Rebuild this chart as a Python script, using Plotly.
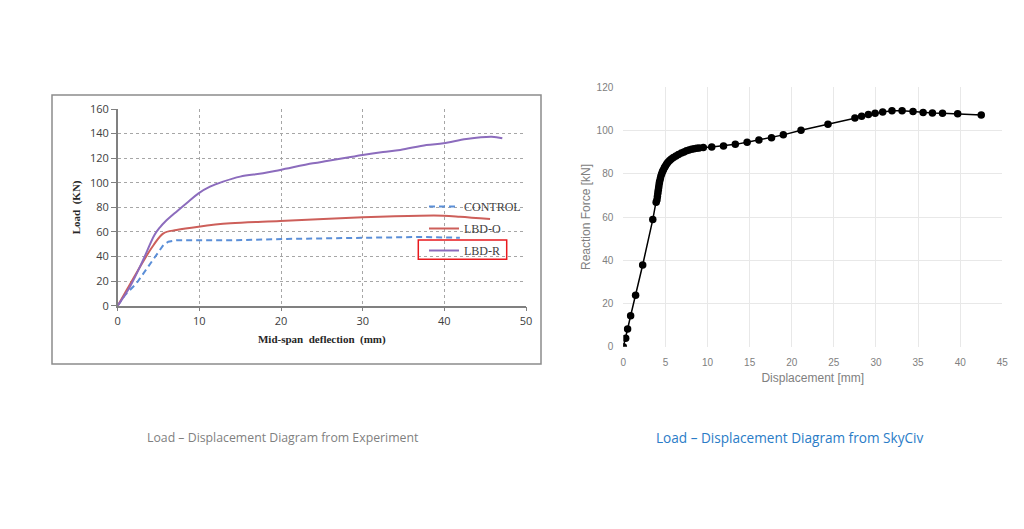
import plotly.graph_objects as go

# experiment curves (left chart)
control_x = [0, 0.9, 2.3, 3.55, 4.8, 5.6, 6.2, 7.2, 9.9, 13.8, 20.7, 30, 37, 41.9]
control_y = [0, 8.7, 18.2, 30.4, 42.6, 49.4, 52, 53.2, 53.2, 53.2, 54.3, 55.3, 55.9, 55.3]

lbdo_x = [0, 1.1, 3.1, 4.4, 5.6, 7.2, 9.9, 13.8, 19.9, 30, 37, 39.9, 41.9, 45.6]
lbdo_y = [0, 12.7, 35.8, 49.4, 58.9, 61.6, 64.3, 67, 68.9, 71.9, 73.2, 73.2, 72.4, 70.5]

lbdr_x = [0, 1.5, 3.1, 4.5, 5.2, 5.8, 7.2, 8.65, 9.9, 11.3, 12.9, 15, 17.8, 19.9, 23.9,
          25.6, 27.6, 30, 32.5, 34.6, 37.8, 39.9, 42.7, 45.8, 47.1]
lbdr_y = [0, 15.5, 37, 57.5, 64.0, 68.3, 76.5, 84.6, 91.4, 96.8, 100.9, 105, 107.7, 110.4, 115.8,
          117.7, 119.9, 122.6, 125.0, 126.7, 130.7, 132.1, 135.6, 137.5, 136.2]

# SkyCiv curve (right chart)
disp = [0, 0.28, 0.51, 0.87, 1.46, 2.3, 3.5, 3.9,
        4.0, 4.05, 4.1, 4.15, 4.2, 4.25, 4.3, 4.38, 4.45, 4.55,
        4.65, 4.75, 4.88, 5.0, 5.15, 5.3, 5.5, 5.7, 5.95, 6.25,
        6.55, 6.9, 7.2, 7.5, 7.8, 8.1, 8.4, 8.7, 9.0, 9.5,
        10.5, 11.9, 13.3, 14.7, 16.1, 17.6, 19.0, 21.1, 24.3, 27.5,
        28.3, 29.1, 29.9, 30.8, 31.9, 33.1, 34.4, 35.6, 36.7, 37.9,
        39.7, 42.5]
force = [0, 3.9, 8.2, 14.3, 23.8, 37.8, 58.8, 66.8,
         68, 69.5, 71, 72.4, 73.7, 75, 76.2, 77.5, 78.7, 79.9,
         80.9, 81.8, 82.8, 83.6, 84.5, 85.3, 86.1, 86.8, 87.5, 88.2,
         88.9, 89.6, 90.1, 90.6, 91.0, 91.3, 91.6, 91.8, 91.9, 92.1,
         92.4, 92.9, 93.6, 94.6, 95.6, 96.7, 98.0, 100.1, 102.9, 105.8,
         106.6, 107.4, 108.0, 108.6, 109.1, 109.2, 108.8, 108.3, 108.1, 108.0,
         107.8, 107.2]

W, H = 1024, 529
OFF = 8  # page body margin shifts the whole figure


def px(x):
    return (x - OFF) / W


def py(y):
    return 1 - (y - OFF) / H


fig = go.Figure()
fig.add_trace(go.Scatter(x=control_x, y=control_y, name="CONTROL", legendgroup="c", mode="lines",
                         line=dict(color="#5b8fd8", width=2, dash="6px,4px"), xaxis="x", yaxis="y"))
fig.add_trace(go.Scatter(x=lbdo_x, y=lbdo_y, name="LBD-O", legendgroup="o", mode="lines",
                         line=dict(color="#cd5f5a", width=2, shape="spline"), xaxis="x", yaxis="y"))
fig.add_trace(go.Scatter(x=lbdr_x, y=lbdr_y, name="LBD-R", legendgroup="r", mode="lines",
                         line=dict(color="#8c6cbd", width=2, shape="spline"), xaxis="x", yaxis="y"))
fig.add_trace(go.Scatter(x=disp, y=force, mode="lines+markers", showlegend=False,
                         line=dict(color="black", width=1.5),
                         marker=dict(color="black", size=7.5), xaxis="x2", yaxis="y2"))

serif = "Liberation Serif, Times New Roman, serif"
sans = "Liberation Sans, Arial, sans-serif"
cal = "Open Sans, Noto Sans, sans-serif"

grid_left = dict(showgrid=True, gridcolor="#a6a6a6", griddash="3px,3px", gridwidth=1,
                 showline=True, linecolor="#808080", linewidth=1.5, zeroline=False,
                 ticks="outside", tickcolor="#808080", automargin=False,
                 tickfont=dict(family=cal, size=11, color="#404040"))
grid_right = dict(showgrid=True, gridcolor="#e8e8e8", gridwidth=1, showline=False,
                  zeroline=False, ticks="outside", tickcolor="rgba(0,0,0,0)",
                  automargin=False, tickfont=dict(family=sans, size=10, color="#808080"))

fig.update_layout(
    template="none",
    width=W, height=H, margin=dict(l=0, r=0, t=0, b=0, pad=0),
    paper_bgcolor="white", plot_bgcolor="white",
    xaxis=dict(grid_left, domain=[px(117.7), px(526)], anchor="y", range=[0, 50], dtick=10,
               ticklen=4,
               title=dict(text="<b>Mid-span&nbsp; deflection&nbsp; (mm)</b>", standoff=9,
                          font=dict(family=serif, size=11, color="#262626"))),
    yaxis=dict(grid_left, domain=[py(305.7), py(109)], anchor="x", range=[0, 160],
               dtick=20, ticklen=5,
               title=dict(text="<b>Load&nbsp; (KN)</b>", standoff=7,
                          font=dict(family=serif, size=11, color="#262626"))),
    xaxis2=dict(grid_right, domain=[px(623.3), px(1002.3)], anchor="y2", range=[0, 45],
                dtick=5, ticklen=6,
                title=dict(text="Displacement [mm]", standoff=6,
                           font=dict(family=sans, size=12, color="#808080"))),
    yaxis2=dict(grid_right, domain=[py(346.7), py(87.3)], anchor="x2", range=[0, 120],
                dtick=20, ticklen=7,
                title=dict(text="Reaction Force [kN]", standoff=3,
                           font=dict(family=sans, size=12, color="#808080"))),
    legend=dict(x=px(424), y=py(192), xanchor="left", yanchor="top",
                bgcolor="rgba(0,0,0,0)", font=dict(family=serif, size=12, color="#404040"),
                tracegroupgap=3),
    showlegend=True,
)

# frame around the experiment chart and red highlight box
fig.add_shape(type="rect", xref="paper", yref="paper",
              x0=px(52), x1=px(541), y0=py(364), y1=py(95),
              line=dict(color="#8c8c8c", width=1.5))
fig.add_shape(type="rect", xref="paper", yref="paper",
              x0=px(418.3), x1=px(506.7), y0=py(259.3), y1=py(240),
              line=dict(color="#e8191e", width=1.5))

fig.add_annotation(text="Load – Displacement Diagram from Experiment", xref="paper", yref="paper",
                   x=px(283), y=py(437), xanchor="center", yanchor="middle", showarrow=False,
                   font=dict(family=cal, size=12.3, color="#7f7f7f"))
fig.add_annotation(text="Load – Displacement Diagram from SkyCiv", xref="paper", yref="paper",
                   x=px(789), y=py(437), xanchor="center", yanchor="middle", showarrow=False,
                   font=dict(family=cal, size=13.6, color="#2a7cc7"))

fig.write_html("out.html")
